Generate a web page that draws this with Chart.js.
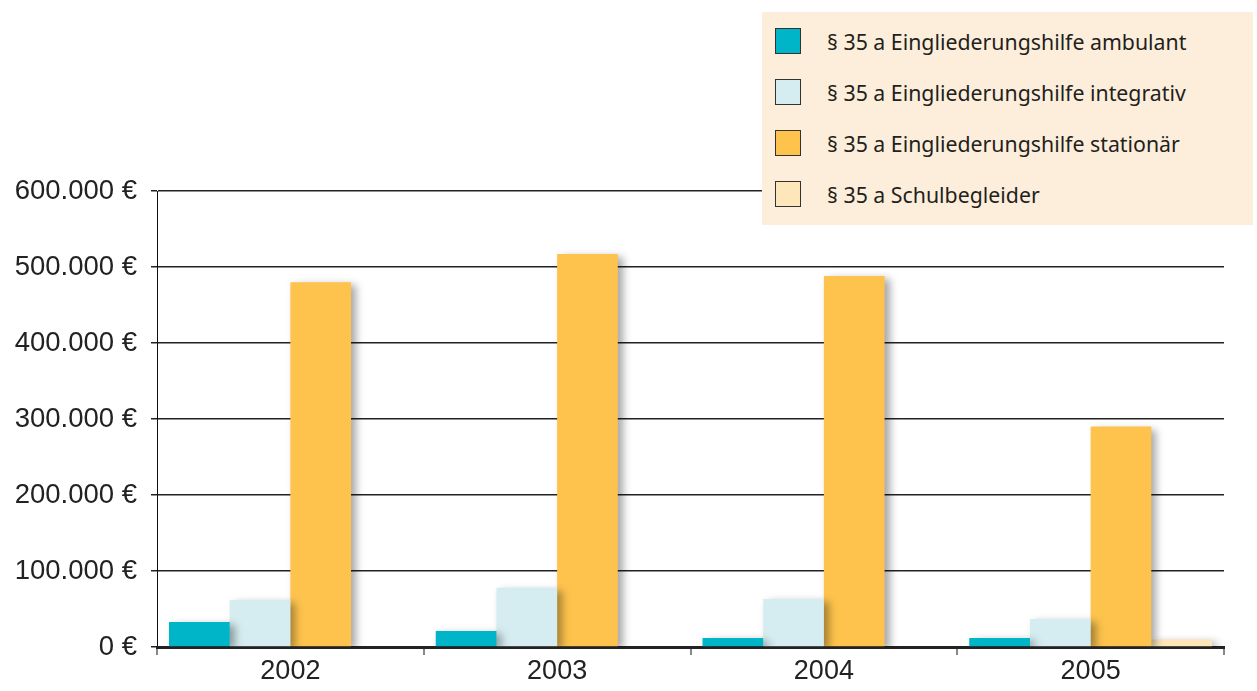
<!DOCTYPE html>
<html>
<head>
<meta charset="utf-8">
<script src="https://cdn.jsdelivr.net/npm/chart.js@4.4.1/dist/chart.umd.min.js"></script>
<style>
body{margin:0;background:#fff;}
#wrap{position:relative;width:1257px;height:691px;}
#legend{position:absolute;left:762px;top:12px;width:491px;height:213px;background:#fdeedb;
  font-family:"Noto Sans",sans-serif;font-size:21.3px;color:#231f20;}
.item{position:absolute;left:13px;height:28px;display:flex;align-items:center;}
.box{width:26px;height:26px;border:1px solid #333;margin-right:26px;box-sizing:border-box;}
</style>
</head>
<body>
<div id="wrap">
<canvas id="myChart" width="1257" height="691"></canvas>
<div id="legend"></div>
</div>
<script>
// data
let years = ['2002','2003','2004','2005'];
let ambulant = [33000, 21000, 12000, 12000];
let integrativ = [62000, 78000, 63000, 37000];
let stationaer = [480000, 517000, 488000, 290000];
let schulbegleider = [0, 0, 0, 10000];
let labels = ['§ 35 a Eingliederungshilfe ambulant','§ 35 a Eingliederungshilfe integrativ','§ 35 a Eingliederungshilfe stationär','§ 35 a Schulbegleider'];
let colors = ['#00b5c7','#d5edf1','#fdc34d','#fde6ba'];

function euro(v){
    return String(v).replace(/\B(?=(\d{3})+(?!\d))/g,'.') + ' €';
}

// shadow behind the bars
const shadow = {
    id:'shadow',
    beforeDatasetDraw(chart){
        let ctx = chart.ctx;
        ctx.save();
        ctx.shadowColor = 'rgba(0,0,0,0.35)';
        ctx.shadowBlur = 8;
        ctx.shadowOffsetX = 5;
        ctx.shadowOffsetY = 3;
    },
    afterDatasetDraw(chart){
        chart.ctx.restore();
    }
};

const ctx = document.getElementById('myChart');
const chart = new Chart(ctx, {
    type:'bar',
    data:{
        labels: years,
        datasets:[
            {label:labels[0], data:ambulant, backgroundColor:colors[0]},
            {label:labels[1], data:integrativ, backgroundColor:colors[1]},
            {label:labels[2], data:stationaer, backgroundColor:colors[2]},
            {label:labels[3], data:schulbegleider, backgroundColor:colors[3]}
        ]
    },
    options:{
        responsive:false,
        animation:false,
        layout:{padding:{top:191,left:0,right:33,bottom:0}},
        datasets:{bar:{categoryPercentage:0.91, barPercentage:1.0}},
        plugins:{legend:{display:false}, tooltip:{enabled:false}},
        scales:{
            y:{
                min:0, max:600000,
                ticks:{stepSize:100000, callback:(v)=>euro(v), color:'#222', padding:14,
                    font:{family:'"Liberation Sans", Arial, sans-serif', size:27.5}},
                grid:{color:'#222', lineWidth:1.5, tickLength:6, tickColor:'#222'},
                border:{display:true, color:'#111', width:1},
                afterFit(scale){ scale.width = 157; }
            },
            x:{
                ticks:{color:'#222', padding:0,
                    font:{family:'"Liberation Sans", Arial, sans-serif', size:27}},
                grid:{offset:true, drawOnChartArea:false, color:'#888', lineWidth:2, tickLength:8},
                border:{display:true, color:'#222', width:3},
                afterFit(scale){ scale.height = 44; }
            }
        }
    },
    plugins:[shadow]
});

// legend as html
let legend = document.getElementById('legend');
labels.forEach((l, i) => {
    legend.innerHTML += `<div class="item" style="top:${15 + i*51}px">
        <div class="box" style="background:${colors[i]}"></div><span>${l}</span></div>`;
});
</script>
</body>
</html>
